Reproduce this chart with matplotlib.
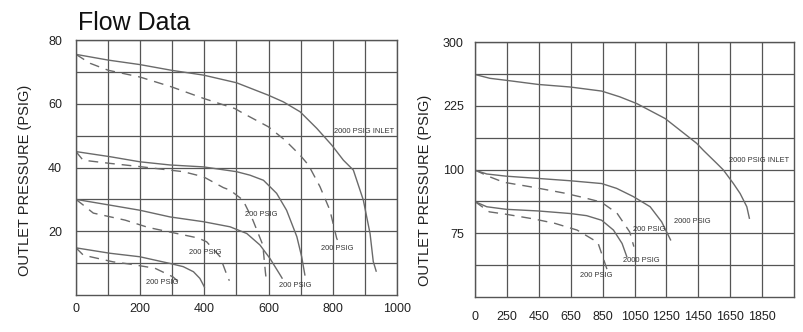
import numpy as np
import matplotlib.pyplot as plt

plt.rcParams['font.family'] = ['Liberation Sans', 'DejaVu Sans']

# ---- left chart: flow (x) vs outlet pressure (psig) ----
top_solid_x = [0, 101, 199, 298, 397, 500, 599, 646, 698, 750, 797, 833, 864, 895, 916, 926, 935]
top_solid_y = [75.5, 73.7, 72.3, 70.5, 69.0, 66.6, 62.7, 60.6, 57.5, 52.3, 47.0, 42.3, 39.2, 29.8, 19.3, 10.5, 7.5]
top_dash_x = [0, 44, 101, 199, 298, 397, 495, 521, 599, 651, 698, 724, 760, 791, 812, 818]
top_dash_y = [75.5, 72.7, 70.5, 68.4, 65.3, 61.7, 58.5, 57.0, 52.8, 48.6, 43.9, 40.8, 34.0, 26.6, 17.8, 16.5]

mid_solid_x = [0, 106, 199, 293, 397, 500, 542, 584, 625, 656, 688, 703, 713]
mid_solid_y = [45.0, 43.4, 41.8, 40.8, 40.2, 38.7, 37.6, 36.0, 31.9, 26.6, 18.3, 12.0, 6.3]
mid_dash_x = [0, 22, 106, 189, 334, 397, 459, 480, 520, 551, 582, 590, 593]
mid_dash_y = [45.0, 42.3, 41.3, 40.4, 38.7, 37.1, 33.7, 32.9, 29.8, 23.5, 15.7, 7.2, 4.5]

low_solid_x = [0, 106, 199, 293, 397, 480, 532, 573, 604, 636, 642]
low_solid_y = [30.0, 28.2, 26.6, 24.5, 23.0, 21.4, 19.3, 15.7, 11.5, 6.3, 5.3]
low_dash_x = [0, 23, 54, 153, 225, 300, 380, 407, 449, 474, 478]
low_dash_y = [30.0, 28.2, 25.7, 23.5, 21.2, 19.6, 17.9, 16.7, 12.0, 5.2, 4.5]

bot_solid_x = [0, 106, 199, 293, 334, 366, 386, 397, 400]
bot_solid_y = [14.8, 13.1, 12.0, 9.9, 8.9, 7.3, 5.2, 3.1, 2.5]
bot_dash_x = [0, 23, 116, 168, 246, 302, 319]
bot_dash_y = [14.8, 12.5, 10.4, 9.7, 8.4, 5.7, 4.2]

left_labels = ["2000 PSIG INLET", "200 PSIG", "200 PSIG", "200 PSIG", "200 PSIG", "200 PSIG"]
left_label_x = [898, 578, 815, 402, 269, 683]
left_label_y = [51.4, 25.3, 14.6, 13.3, 4.0, 2.9]

# ---- right chart: uneven tick spacing on both axes ----
r_xticks = [0, 250, 450, 650, 850, 1050, 1250, 1450, 1650, 1850]
r_xedge = 2050
r_yticks = [75, 100, 225, 300]
r_yrows = [50, 62.5, 75, 87.5, 100, 162.5, 225, 262.5, 300]

inlet_x = [0, 117, 243, 446, 646, 844, 958, 1064, 1242, 1440, 1482, 1566, 1606, 1670, 1712, 1754, 1770]
inlet_y = [261.8, 257.3, 255.0, 250.1, 247.1, 242.3, 235.5, 227.6, 200.0, 151.3, 137.5, 111.9, 99.9, 94.5, 90.6, 85.4, 80.9]

hi_solid_x = [0, 92, 243, 446, 646, 844, 938, 1042, 1148, 1220, 1276]
hi_solid_y = [99.75, 98.25, 97.4, 96.5, 95.6, 94.5, 92.6, 89.4, 85.4, 79.5, 72.4]
hi_dash_x = [0, 117, 225, 410, 610, 730, 840, 940, 1020, 1046]
hi_dash_y = [99.75, 97.1, 95.0, 93.1, 90.75, 89.0, 87.25, 82.9, 75.5, 69.75]

lo_solid_x = [0, 92, 243, 446, 646, 750, 844, 918, 972, 1002]
lo_solid_y = [87.4, 85.4, 84.4, 83.75, 82.75, 81.9, 80.1, 76.25, 71.0, 65.75]
lo_dash_x = [0, 112, 238, 420, 550, 690, 820, 886]
lo_dash_y = [87.4, 83.4, 82.5, 80.6, 78.9, 76.25, 71.4, 59.3]

right_labels = ["2000 PSIG INLET", "2000 PSIG", "200 PSIG", "2000 PSIG", "200 PSIG"]
right_label_x = [1830, 1412, 1140, 1090, 810]
right_label_y = [118, 79.75, 76.6, 64.5, 58.4]

line_col = '#6a6a6a'
grid_col = '#555555'
dash = (7, 5)

fig = plt.figure(figsize=(8.04, 3.32), dpi=100)
ax1 = fig.add_axes([0.0945, 0.1114, 0.3993, 0.768])
ax2 = fig.add_axes([0.5908, 0.1054, 0.3968, 0.768])


def style(ax, label_xy):
    ax.grid(True, which='both', color=grid_col, linewidth=0.9)
    ax.set_axisbelow(True)
    ax.tick_params(which='both', length=0, labelsize=9, colors='#222222')
    for s in ax.spines.values():
        s.set_color(grid_col)
        s.set_linewidth(1.0)
    ax.set_ylabel("OUTLET PRESSURE (PSIG)", fontsize=10.5, color='#222222')
    ax.yaxis.set_label_coords(*label_xy)


# left
for xs, ys, ls in [(top_solid_x, top_solid_y, '-'), (top_dash_x, top_dash_y, '--'),
                   (mid_solid_x, mid_solid_y, '-'), (mid_dash_x, mid_dash_y, '--'),
                   (low_solid_x, low_solid_y, '-'), (low_dash_x, low_dash_y, '--'),
                   (bot_solid_x, bot_solid_y, '-'), (bot_dash_x, bot_dash_y, '--')]:
    ln, = ax1.plot(xs, ys, color=line_col, linewidth=1.0, linestyle=ls)
    if ls == '--':
        ln.set_dashes(dash)
ax1.set_xlim(0, 1000)
ax1.set_ylim(0, 80)
ax1.set_xticks(np.arange(0, 1001, 200))
ax1.set_xticks(np.arange(100, 1000, 200), minor=True)
ax1.set_yticks([20, 40, 60, 80])
ax1.set_yticks([10, 30, 50, 70], minor=True)
style(ax1, (-0.137, 0.45))
ax1.tick_params(axis='x', pad=6)
ax1.tick_params(axis='y', pad=10)
for t, x, y in zip(left_labels, left_label_x, left_label_y):
    ax1.text(x, y, t, fontsize=5.4, ha='center', va='center', color='#333333')

# right, piecewise scale so the uneven ticks sit on even gridlines
gx_vals = np.array(r_xticks + [r_xedge], dtype=float)
gx_pos = np.arange(len(gx_vals), dtype=float)
gy_vals = np.array(r_yrows, dtype=float)
gy_pos = np.arange(len(gy_vals), dtype=float)

ax2.set_xscale('function', functions=(lambda v: np.interp(v, gx_vals, gx_pos),
                                      lambda g: np.interp(g, gx_pos, gx_vals)))
ax2.set_yscale('function', functions=(lambda v: np.interp(v, gy_vals, gy_pos),
                                      lambda g: np.interp(g, gy_pos, gy_vals)))

for xs, ys, ls in [(inlet_x, inlet_y, '-'),
                   (hi_solid_x, hi_solid_y, '-'), (hi_dash_x, hi_dash_y, '--'),
                   (lo_solid_x, lo_solid_y, '-'), (lo_dash_x, lo_dash_y, '--')]:
    ln, = ax2.plot(xs, ys, color=line_col, linewidth=1.0, linestyle=ls)
    if ls == '--':
        ln.set_dashes(dash)
ax2.set_xlim(0, r_xedge)
ax2.set_ylim(50, 300)
ax2.set_xticks(r_xticks)
ax2.set_xticklabels([str(v) for v in r_xticks])
ax2.set_xticks([], minor=True)
ax2.set_yticks(r_yticks)
ax2.set_yticklabels([str(v) for v in r_yticks])
ax2.set_yticks([v for v in r_yrows[1:-1] if v not in r_yticks], minor=True)
ax2.yaxis.set_minor_formatter(plt.NullFormatter())
style(ax2, (-0.135, 0.42))
ax2.tick_params(axis='x', pad=10)
ax2.tick_params(axis='y', pad=8)
for t, x, y in zip(right_labels, right_label_x, right_label_y):
    ax2.text(x, y, t, fontsize=5.4, ha='center', va='center', color='#333333')

fig.text(78 / 804, 1 - 30 / 332, "Flow Data", fontsize=18, ha='left', va='baseline', color='#111111')

fig.savefig('out.png', dpi=100)
